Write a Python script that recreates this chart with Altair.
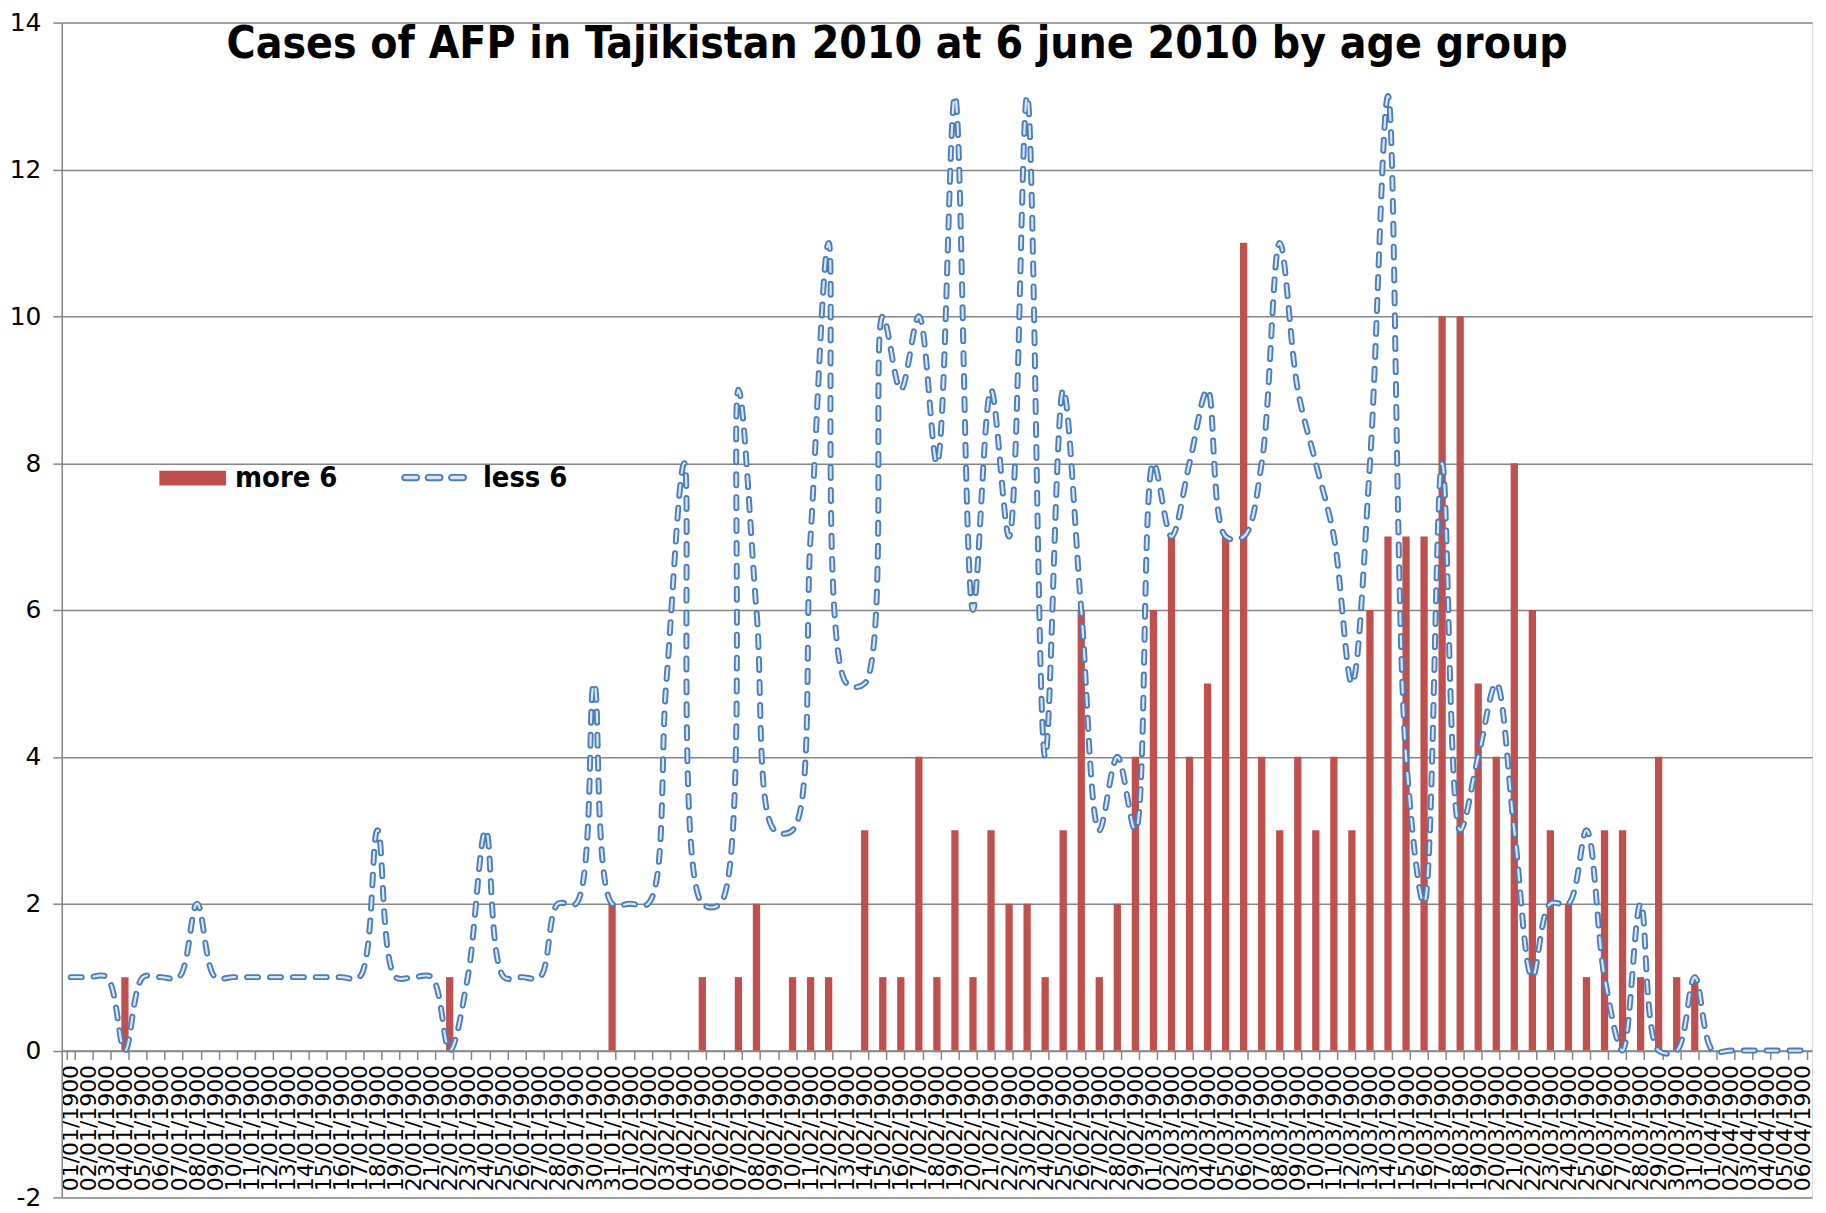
import altair as alt
import pandas as pd

dates = [
    "01/01/1900", "02/01/1900", "03/01/1900", "04/01/1900", "05/01/1900", "06/01/1900", "07/01/1900",
    "08/01/1900", "09/01/1900", "10/01/1900", "11/01/1900", "12/01/1900", "13/01/1900", "14/01/1900",
    "15/01/1900", "16/01/1900", "17/01/1900", "18/01/1900", "19/01/1900", "20/01/1900", "21/01/1900",
    "22/01/1900", "23/01/1900", "24/01/1900", "25/01/1900", "26/01/1900", "27/01/1900", "28/01/1900",
    "29/01/1900", "30/01/1900", "31/01/1900",
    "01/02/1900", "02/02/1900", "03/02/1900", "04/02/1900", "05/02/1900", "06/02/1900", "07/02/1900",
    "08/02/1900", "09/02/1900", "10/02/1900", "11/02/1900", "12/02/1900", "13/02/1900", "14/02/1900",
    "15/02/1900", "16/02/1900", "17/02/1900", "18/02/1900", "19/02/1900", "20/02/1900", "21/02/1900",
    "22/02/1900", "23/02/1900", "24/02/1900", "25/02/1900", "26/02/1900", "27/02/1900", "28/02/1900",
    "29/02/1900",
    "01/03/1900", "02/03/1900", "03/03/1900", "04/03/1900", "05/03/1900", "06/03/1900", "07/03/1900",
    "08/03/1900", "09/03/1900", "10/03/1900", "11/03/1900", "12/03/1900", "13/03/1900", "14/03/1900",
    "15/03/1900", "16/03/1900", "17/03/1900", "18/03/1900", "19/03/1900", "20/03/1900", "21/03/1900",
    "22/03/1900", "23/03/1900", "24/03/1900", "25/03/1900", "26/03/1900", "27/03/1900", "28/03/1900",
    "29/03/1900", "30/03/1900", "31/03/1900",
    "01/04/1900", "02/04/1900", "03/04/1900", "04/04/1900", "05/04/1900", "06/04/1900",
]

more_6 = [
    # January
    0, 0, 0, 1, 0, 0, 0, 0, 0, 0, 0, 0, 0, 0, 0, 0, 0, 0, 0, 0, 0, 1, 0, 0, 0, 0, 0, 0, 0, 0, 2,
    # February
    0, 0, 0, 0, 1, 0, 1, 2, 0, 1, 1, 1, 0, 3, 1, 1, 4, 1, 3, 1, 3, 2, 2, 1, 3, 6, 1, 2, 4,
    # March
    6, 7, 4, 5, 7, 11, 4, 3, 4, 3, 4, 3, 6, 7, 7, 7, 10, 10, 5, 4, 8, 6, 3, 2, 1, 3, 3, 1, 4, 1, 1,
    # April
    0, 0, 0, 0, 0, 0,
]

less_6 = [
    # January
    1, 1, 1, 0, 1, 1, 1, 2, 1, 1, 1, 1, 1, 1, 1, 1, 1, 3, 1, 1, 1, 0, 1, 3, 1, 1, 1, 2, 2, 5, 2,
    # February
    2, 2, 5, 8, 2, 2, 9, 6, 3, 3, 7, 11, 5, 5, 10, 9, 10, 8, 13, 6, 9, 7, 13, 4, 9, 6, 3, 4, 3,
    # March
    8, 7, 8, 9, 7, 7, 8, 11, 9, 8, 7, 5, 8, 13, 4, 2, 8, 3, 4, 5, 3, 1, 2, 2, 3, 1, 0, 2, 0, 0, 1,
    # April
    0, 0, 0, 0, 0, 0,
]

y_ticks = [-2, 0, 2, 4, 6, 8, 10, 12, 14]
title_text = "Cases of AFP in Tajikistan 2010 at 6 june 2010 by age group"

df = pd.DataFrame({"date": dates, "more": more_6, "less": less_6, "order": list(range(len(dates)))})

W = 1758
H = 1180
GRAY = "#868686"
RED = "#C0504D"
BLUE = "#4A7EBB"
CORE = "#dce6f2"

xscale = alt.Scale(type="band", paddingInner=0.6, paddingOuter=0.3)
yscale = alt.Scale(domain=[-2, 14], nice=False, zero=False)

x_axis = alt.Axis(
    title=None, orient="bottom", offset=-H * 2 / 16, labelAngle=-90,
    labelFont="DejaVu Sans", labelFontSize=22, labelColor="black", labelPadding=5,
    labelOverlap=False, tickBand="extent", tickSize=9, tickColor=GRAY, tickWidth=1.5,
    domainColor=GRAY, domainWidth=1.5, grid=False,
)
y_axis = alt.Axis(
    title=None, values=y_ticks, labelExpr="'' + datum.value",
    labelFont="DejaVu Sans", labelFontSize=25, labelColor="black",
    labelPadding=12, tickSize=9, tickColor=GRAY, tickWidth=1.5, domainColor=GRAY, domainWidth=1.5,
    grid=True, gridColor=GRAY, gridWidth=1.5,
)

X = alt.X("date:N", sort=dates, scale=xscale, axis=x_axis)

bars = alt.Chart(df).transform_calculate(series="'more 6'").mark_bar(size=7.3).encode(
    x=X,
    y=alt.Y("more:Q", scale=yscale, axis=y_axis),
    fill=alt.Fill(
        "series:N",
        scale=alt.Scale(domain=["more 6"], range=[RED]),
        legend=alt.Legend(
            orient="none", legendX=98, legendY=424, title=None, padding=0,
            symbolType="M-1,-0.22H1V0.22H-1Z", symbolSize=4489, symbolStrokeWidth=0,
            labelFont="DejaVu Sans Condensed", labelFontSize=29, labelFontWeight="bold",
            labelColor="black", labelOffset=9,
        ),
    ),
)

pill = "M{a},-0.085H{b}A0.085,0.085 0 0 1 {b},0.085H{a}A0.085,0.085 0 0 1 {a},-0.085Z"
legend_path = " ".join(
    pill.format(a=round(x0 + 0.085, 3), b=round(x1 - 0.085, 3))
    for x0, x1 in [(-1.0, -0.47), (-0.265, 0.265), (0.47, 1.0)]
)

line_blue = alt.Chart(df).transform_calculate(series2="'less 6'").mark_line(
    interpolate="catmull-rom", strokeWidth=6, strokeDash=[11, 12], strokeCap="round"
).encode(
    x=X,
    y=alt.Y("less:Q", scale=yscale, axis=y_axis),
    order=alt.Order("order:Q"),
    stroke=alt.Stroke(
        "series2:N",
        scale=alt.Scale(domain=["less 6"], range=[BLUE]),
        legend=alt.Legend(
            orient="none", legendX=341, legendY=424, title=None, padding=0,
            symbolType=legend_path, symbolSize=4096, symbolStrokeWidth=2,
            symbolFillColor=CORE,
            labelFont="DejaVu Sans Condensed", labelFontSize=29, labelFontWeight="bold",
            labelColor="black", labelOffset=16,
        ),
    ),
)

line_core = alt.Chart(df).mark_line(
    interpolate="catmull-rom", strokeWidth=2.2, strokeDash=[11, 12], strokeCap="round", color=CORE
).encode(
    x=X,
    y=alt.Y("less:Q", scale=yscale, axis=y_axis),
    order=alt.Order("order:Q"),
)

chart = alt.layer(bars, line_blue, line_core).properties(
    width=W,
    height=H,
    autosize=alt.AutoSizeParams(type="none"),
    padding={"left": 54, "top": 12, "right": 6, "bottom": 12},
    title=alt.TitleParams(
        text=title_text, font="DejaVu Sans Condensed", fontSize=44.3, fontWeight="bold",
        color="black", anchor="middle", frame="group", baseline="alphabetic",
        offset=0, dy=92, dx=-40,
    ),
).configure_view(strokeWidth=0).configure(background="white")

chart.save("out.html", embed_options={"renderer": "svg", "actions": False})
